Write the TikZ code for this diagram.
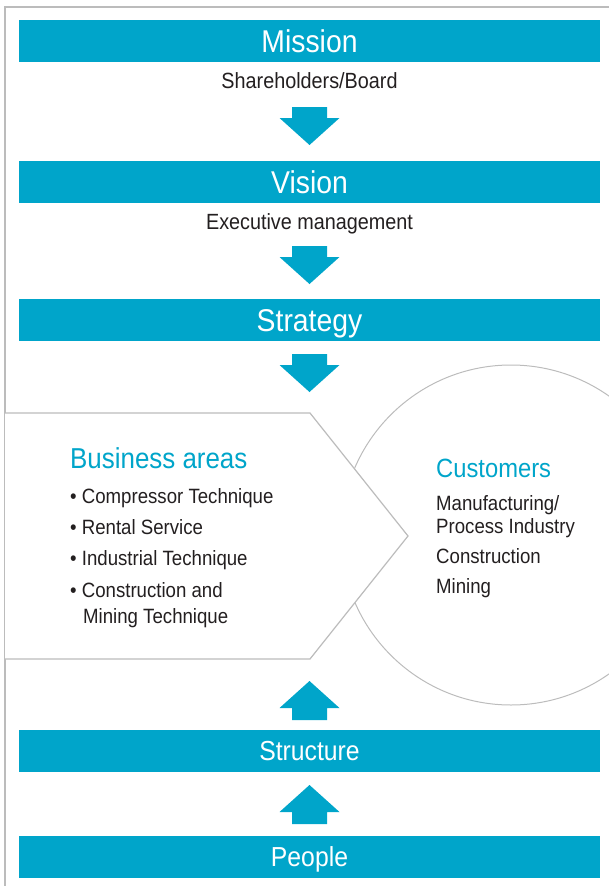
\documentclass[tikz,border=0pt]{standalone}
\usepackage{fontspec}
\setmainfont{Liberation Sans}[FakeStretch=0.9]
\usetikzlibrary{positioning}
\definecolor{brand}{RGB}{0,165,202}
\definecolor{ink}{RGB}{35,31,32}
\definecolor{rule}{RGB}{188,188,188}
\begin{document}
\begin{tikzpicture}
[x=1pt, y=-1pt, node distance=10.5pt, text=ink]
\tikzstyle{bar}=[fill=brand, text=white, minimum width=581pt, minimum height=42pt, inner sep=0pt, text height=22pt, text depth=0pt, font=\fontsize{31.5}{32}\selectfont]
\tikzstyle{lowbar}=[bar, text height=19pt, font=\fontsize{27.5}{28}\selectfont]
\tikzstyle{sub}=[inner sep=0pt, text height=15.5pt, text depth=0pt, font=\fontsize{22}{22}\selectfont]
\tikzstyle{head}=[text=brand, inner sep=0pt, anchor=base west]
\tikzstyle{item}=[inner sep=0pt, anchor=base west, font=\fontsize{20.7}{21}\selectfont]
\tikzstyle{blockarrow}=[fill=brand]
\tikzstyle{outline}=[draw=rule, line width=1.2pt]

\useasboundingbox (0,0) rectangle (609,886);

% frame
\draw[outline] (5,886) -- (5,7) -- (609,7);

% customers circle, business block on top
\node[circle, draw=rule, line width=1pt, minimum size=340pt, inner sep=0pt] (cust) at (511,535) {};
\draw[outline, fill=white] (5,413) -- (310,413) -- (408,536) -- (310,659) -- (5,659);

\node[bar]	(mission)	at (309.5,41)	{Mission};
\node[sub]	(board)	[below=of mission]	{Shareholders/Board};
\node[bar]	(vision)	at (309.5,182)	{Vision};
\node[sub]	(mgmt)	[below=of vision]	{Executive management};
\node[bar]	(strategy)	at (309.5,320)	{Strategy};
\node[lowbar]	(structure)	at (309.5,751)	{Structure};
\node[lowbar]	(people)	at (309.5,856.5)	{People};

\node[head, font=\fontsize{28.8}{29}\selectfont]	(areas)	at (70,468)	{Business areas};
\node[item]	(comp)	at (70,503)	{• Compressor Technique};
\node[item]	(rent)	at (70,534)	{• Rental Service};
\node[item]	(indu)	at (70,565)	{• Industrial Technique};
\node[item]	(cmt)	at (70,597)	{• Construction and};
\node[item]	(cmt2)	at (83,623)	{Mining Technique};

\node[head, font=\fontsize{26.4}{27}\selectfont]	(custs)	at (436,477)	{Customers};
\node[item]	(manu)	at (436,510)	{Manufacturing/};
\node[item]	(proc)	at (436,533)	{Process Industry};
\node[item]	(cons)	at (436,563)	{Construction};
\node[item]	(mine)	at (436,593)	{Mining};

% block arrows
\foreach \y in {107,246,354}
  \fill[blockarrow, shift={(309.5,\y)}] (-17.5,0) -- (17.5,0) -- (17.5,11) -- (30,11) -- (0,38) -- (-30,11) -- (-17.5,11) -- cycle;
\foreach \y in {681,785}
  \fill[blockarrow, shift={(309.5,\y)}] (0,0) -- (30,27) -- (17.5,27) -- (17.5,39) -- (-17.5,39) -- (-17.5,27) -- (-30,27) -- cycle;
\end{tikzpicture}
\end{document}
